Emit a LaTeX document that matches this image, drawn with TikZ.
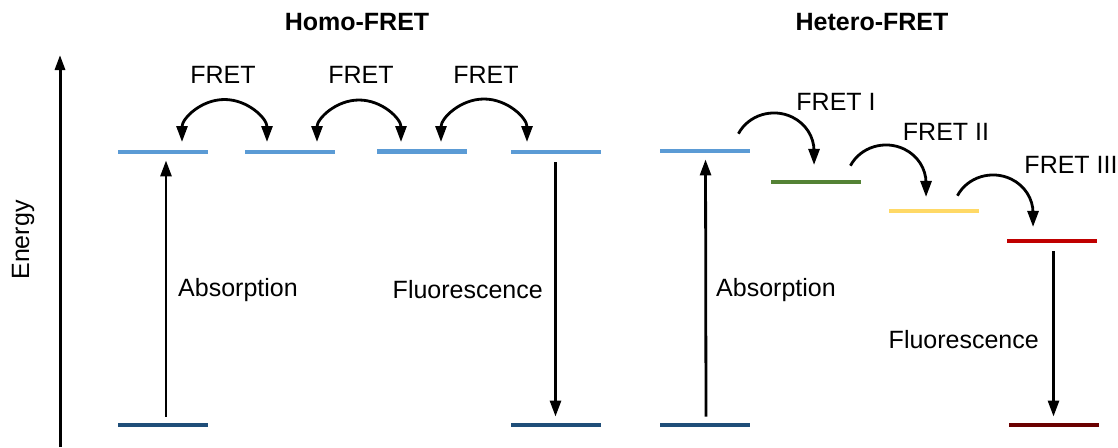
\documentclass[tikz,border=0pt]{standalone}
\usepackage{fontspec}
\setmainfont{Liberation Sans}
\usetikzlibrary{arrows.meta}

\definecolor{lvlblue}{HTML}{5B9BD5}
\definecolor{gndblue}{HTML}{1F4E79}
\definecolor{lvlgreen}{HTML}{548235}
\definecolor{lvlyellow}{HTML}{FFD966}
\definecolor{lvlred}{HTML}{C00000}
\definecolor{gndred}{HTML}{6B0000}

\begin{document}
\begin{tikzpicture}[x=1pt,y=-1pt,
  every node/.style={font=\fontsize{25}{30}\selectfont, inner sep=0pt},
  title/.style={font=\fontsize{25}{30}\selectfont\bfseries},
  level/.style={fill=#1, draw=none, minimum width=90pt, minimum height=4.5pt, inner sep=0pt},
  arr/.style={line width=2.8pt, -{Triangle[length=16pt,width=11pt]}},
  darr/.style={line width=2.8pt, {Triangle[length=16pt,width=11pt]}-{Triangle[length=16pt,width=11pt]}},
  axis/.style={line width=3pt, -{Triangle[length=15pt,width=10pt]}}]
\useasboundingbox (0,0) rectangle (1118,447);

% energy axis
\coordinate (axbot) at (60,447);
\coordinate (axtop) at (60,55);
\draw[axis] (axbot) -- (axtop);
\node[rotate=90] (energy) at (23,240) {Energy};

% titles
\node[title] (homo) at (357,22) {Homo-FRET};
\node[title] (hetero) at (872,22) {Hetero-FRET};

% ---- homo-FRET levels
\node[level=lvlblue] (h1) at (163,152) {};
\node[level=lvlblue] (h2) at (290,152) {};
\node[level=lvlblue] (h3) at (421.5,151.5) {};
\node[level=lvlblue] (h4) at (555.5,152) {};
\node[level=gndblue] (hg1) at (163,425) {};
\node[level=gndblue] (hg4) at (555.5,425) {};

\draw[arr, shorten <=6pt, shorten >=6pt] ([xshift=3pt]hg1.north) -- ([xshift=3pt]h1.south);
\draw[arr, shorten <=8pt, shorten >=6pt] (h4.south) -- (hg4.north);
\node[anchor=west] (habs) at (178,290) {Absorption};
\node[anchor=east] (hfl) at (543,290) {Fluorescence};

% back-and-forth transfer between equal levels
\coordinate (hf1) at (182,142);
\coordinate (hf2) at (317,142);
\coordinate (hf3) at (441,142);
\draw[darr] (hf1) arc[start angle=180, end angle=360, radius=42.5];
\draw[darr] (hf2) arc[start angle=180, end angle=360, radius=42];
\draw[darr] (hf3) arc[start angle=180, end angle=360, radius=43];
\node (ht1) at (223,75) {FRET};
\node (ht2) at (361,75) {FRET};
\node (ht3) at (486,75) {FRET};

% ---- hetero-FRET cascade
\node[level=lvlblue] (e1) at (704.5,151) {};
\node[level=lvlgreen] (e2) at (815.5,182) {};
\node[level=lvlyellow] (e3) at (934,211) {};
\node[level=lvlred] (e4) at (1051.5,241) {};
\node[level=gndblue] (eg1) at (705,425) {};
\node[level=gndred] (eg4) at (1053.5,425) {};

\draw[arr, shorten <=6pt, shorten >=6pt] ([xshift=1pt]eg1.north) -- ([xshift=1pt]e1.south);
\draw[arr, shorten <=8pt, shorten >=6pt] (e4.south -| eg4) -- (eg4.north);
\node[anchor=west] (eabs) at (716,290) {Absorption};
\node[anchor=east] (efl) at (1039,340) {Fluorescence};

\coordinate (es1) at (738.4,133.7);
\coordinate (es2) at (850.4,165.7);
\coordinate (es3) at (957.4,195.7);
\draw[arr] (es1) arc[start angle=207, end angle=360, x radius=40, y radius=38] -- ++(0,14);
\draw[arr] (es2) arc[start angle=207, end angle=360, x radius=40, y radius=38] -- ++(0,14);
\draw[arr] (es3) arc[start angle=207, end angle=360, x radius=40, y radius=38] -- ++(0,14);
\node (et1) at (836,102) {FRET I};
\node (et2) at (946,132) {FRET II};
\node (et3) at (1071,165) {FRET III};
\end{tikzpicture}
\end{document}
